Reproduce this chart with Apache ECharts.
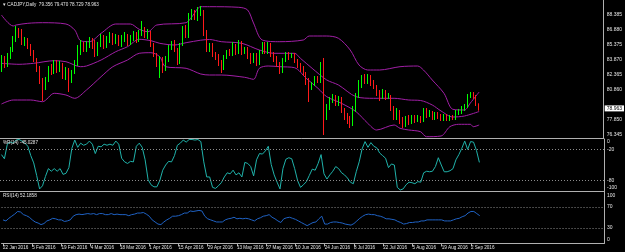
<!DOCTYPE html>
<html><head><meta charset="utf-8">
<script src="https://cdn.jsdelivr.net/npm/echarts@6/dist/echarts.min.js"></script>
<style>html,body{margin:0;padding:0;background:#000;}#c{width:625px;height:252px;}</style>
</head><body><div id="c"></div>
<script>
// ---- data ----
const xTickLabels = ['22 Jan 2016','5 Feb 2016','19 Feb 2016','4 Mar 2016','18 Mar 2016','1 Apr 2016','15 Apr 2016','29 Apr 2016','13 May 2016','27 May 2016','10 Jun 2016','24 Jun 2016','8 Jul 2016','22 Jul 2016','5 Aug 2016','19 Aug 2016','2 Sep 2016'];
const priceTicks = [88.385, 86.880, 85.375, 83.870, 82.365, 80.860, 77.850, 76.345];
const wprTicks = [-5, -20, -80, -94];
const rsiTicks = [92, 70, 30, 7];

const opens = [82.80,84.00,83.30,84.10,84.80,85.80,86.80,86.50,85.60,85.90,
85.10,84.50,83.80,82.80,81.60,81.10,81.80,83.00,82.60,83.60,
82.80,83.30,82.20,82.70,81.70,82.60,83.60,85.00,85.40,84.80,
85.30,85.80,85.20,84.40,85.40,86.00,85.20,85.80,86.30,85.60,
86.10,85.40,86.00,86.20,85.50,86.00,86.40,85.80,86.40,86.90,
86.20,86.50,85.30,84.30,83.30,83.90,82.90,83.80,85.20,85.40,
84.80,83.60,85.40,87.00,86.20,88.20,88.50,88.00,88.60,88.60,
86.40,84.80,85.30,84.30,84.10,83.40,83.00,84.10,84.60,84.40,
85.20,84.60,85.50,84.50,84.90,84.10,83.70,84.30,83.50,84.60,
85.40,84.60,85.30,84.30,84.00,83.30,82.70,83.80,84.30,84.10,
84.30,83.70,83.20,82.90,82.40,81.60,81.00,81.40,81.90,81.80,
83.40,78.40,79.10,79.80,80.10,79.40,79.90,78.80,78.10,77.80,
77.40,79.00,80.20,81.30,82.00,81.60,82.10,81.50,81.10,80.40,
80.10,80.60,80.10,80.20,79.00,78.00,78.60,77.80,77.30,77.90,
77.60,78.10,77.80,78.00,77.80,78.80,78.30,78.50,78.00,78.40,
78.20,77.90,78.20,77.90,78.10,78.00,78.50,78.60,78.90,79.20,
80.20,80.30,80.00,79.356];
const closes = [84.00,83.20,84.10,84.80,85.80,86.80,86.40,85.50,85.90,85.10,
84.50,83.80,82.80,81.60,81.00,81.80,83.00,82.60,83.60,82.80,
83.40,82.20,82.80,81.60,82.60,83.60,85.00,85.40,84.80,85.40,
85.80,85.20,84.30,85.40,86.00,85.20,85.80,86.30,85.60,86.10,
85.40,86.00,86.20,85.50,86.00,86.40,85.80,86.40,87.00,86.20,
86.60,85.30,84.30,83.30,84.00,82.80,83.80,85.10,85.50,84.80,
83.60,85.30,87.00,86.20,88.30,88.60,88.00,88.80,88.70,86.40,
84.80,85.30,84.30,84.00,83.40,82.90,84.10,84.50,84.40,85.30,
84.60,85.50,84.50,84.90,84.10,83.60,84.30,83.40,84.60,85.40,
84.60,85.30,84.30,83.90,83.30,82.60,83.80,84.30,84.00,84.30,
83.70,83.20,82.80,82.40,81.60,80.80,81.40,81.90,81.80,83.40,
78.80,79.10,79.80,80.10,79.40,79.90,78.80,78.10,77.70,77.20,
79.00,80.20,81.30,82.00,81.60,82.10,81.50,81.10,80.40,80.10,
80.60,80.10,80.30,79.00,78.00,78.60,77.80,77.20,77.90,77.50,
78.10,77.80,78.10,77.80,78.80,78.30,78.50,78.00,78.40,78.10,
77.90,78.20,77.90,78.10,78.00,78.50,78.60,79.00,79.20,80.20,
80.30,80.00,79.40,78.963];
const highs = [84.30,84.20,84.50,85.10,86.20,87.20,87.00,86.90,86.10,86.00,
85.40,84.80,84.00,83.20,82.00,82.10,83.20,83.40,83.80,83.80,
83.70,83.50,83.10,83.00,82.80,83.80,85.30,85.80,85.60,85.70,
86.10,86.00,85.80,85.60,86.40,86.30,86.20,86.60,86.50,86.40,
86.30,86.30,86.60,86.40,86.30,86.70,86.60,86.80,87.70,87.10,
86.90,86.70,85.50,84.50,84.20,84.10,84.20,85.30,85.70,85.80,
85.00,85.50,87.20,87.30,88.50,88.90,88.80,89.10,89.20,88.80,
86.80,85.50,85.50,84.60,84.40,83.80,84.30,84.80,84.90,85.60,
85.40,85.80,85.70,85.10,85.10,84.50,84.50,84.50,84.80,85.60,
85.60,85.60,85.50,84.60,84.20,83.60,84.00,84.60,84.60,84.50,
84.50,83.90,83.50,83.20,82.60,82.00,81.60,82.20,82.20,83.60,
84.00,79.40,80.10,80.40,80.30,80.20,80.10,79.00,78.50,78.20,
79.20,80.50,81.80,82.30,82.40,82.40,82.30,81.80,81.30,80.80,
80.90,80.80,80.50,80.30,79.20,79.00,78.80,78.10,78.20,78.30,
78.30,78.30,78.30,78.20,79.00,79.00,78.80,78.70,78.60,78.60,
78.40,78.40,78.40,78.30,78.30,78.80,78.90,79.20,79.40,80.40,
80.60,80.60,80.30,79.470];
const lows = [82.60,83.00,83.10,83.90,84.60,85.60,86.00,85.30,85.20,84.90,
84.20,83.60,82.60,81.40,79.70,80.80,81.60,82.30,82.40,82.50,
82.60,81.90,81.80,80.60,81.50,82.40,83.20,84.30,84.60,84.60,
85.00,84.90,84.10,84.20,85.10,84.90,85.00,85.50,85.30,85.40,
85.20,85.10,85.60,85.20,85.30,85.70,85.50,85.60,86.20,86.00,
85.90,85.10,84.10,83.10,82.00,82.50,82.70,83.60,84.80,84.60,
83.30,83.40,85.20,86.00,86.00,87.80,87.80,87.70,88.20,86.20,
84.60,84.60,84.10,83.80,83.20,82.50,82.80,83.90,84.20,84.20,
84.30,84.40,84.30,84.40,83.90,83.40,83.50,83.20,83.30,84.40,
84.40,84.40,84.10,83.60,83.10,82.40,82.50,83.60,83.80,84.00,
83.50,83.00,82.60,82.20,81.30,79.60,80.80,81.20,81.50,81.50,
76.30,77.80,78.80,79.50,79.20,79.20,78.50,77.80,77.40,77.00,
77.20,78.60,80.00,81.00,81.40,81.40,81.20,80.90,80.20,79.70,
79.90,79.80,79.90,78.70,77.80,77.80,77.40,77.00,77.10,77.30,
77.40,77.50,77.60,77.50,77.60,78.00,78.10,77.80,77.80,77.90,
77.70,77.70,77.70,77.70,77.80,77.80,78.30,78.40,78.70,79.00,
80.00,79.90,79.20,78.729];

// Bollinger bands, read at sample bars: [bar index, price]
const bbUpper = [[0,88.3],[4,87.2],[5,87.3],[9,87.47],[14,87.53],[22,87.4],[25,86.8],[27,85.73],[30,85.63],[34,86.47],[39,87.4],[44,87.4],[47,86.87],[50,86.63],[53,87.3],[63,87.53],[65,88.13],[68,89.13],[71,89.13],[81,89.07],[84,88.8],[86,87.5],[89,85.8],[95,85.63],[103,85.8],[105,86.2],[111,86.2],[115,85.97],[119,84.8],[122,83.3],[125,82.8],[129,82.8],[136,83.13],[142,83.2],[144,82.8],[147,81.8],[151,80.47],[154,78.87],[158,78.8],[160,79.5],[163,80.6]];
const bbMiddle = [[0,83.47],[6,83.37],[11,83.47],[18,83.73],[22,83.63],[27,83.13],[29,83.2],[34,83.8],[39,84.63],[43,85.13],[47,85.87],[51,85.73],[54,85.47],[59,85.3],[63,85.53],[68,85.78],[71,85.85],[75,85.63],[82,85.47],[88,84.8],[93,84.47],[100,84.47],[102,83.97],[106,82.97],[111,81.8],[115,81.3],[121,80.13],[127,79.97],[134,79.97],[139,79.8],[143,79.75],[147,79.3],[150,78.7],[154,78.1],[158,78.2],[163,78.65]];
const bbLower = [[0,79.4],[4,79.8],[10,79.8],[14,79.63],[18,80.47],[22,80.3],[25,79.97],[29,80.8],[34,82.13],[38,83.13],[43,83.8],[47,84.47],[51,84.53],[54,84.13],[56,83.13],[63,82.97],[68,82.4],[71,82.3],[75,82.3],[83,82.07],[86,81.87],[88,82.97],[91,83.2],[95,83.13],[100,83.03],[104,81.97],[108,80.97],[111,80.13],[116,79.47],[121,78.63],[125,77.47],[128,76.8],[134,77.3],[136,76.97],[139,76.8],[143,76.63],[145,76.13],[150,76.2],[153,77.13],[156,77.37],[160,77.37],[161,77.13],[163,77.3]];

const wpr = [-30,-38,-10,-6,-8,-2,-1,-4,-8,-14,
-32,-46,-70,-96,-90,-72,-57,-62,-57,-62,
-57,-68,-66,-55,-18,-2,-16,-8,-12,-10,
-4,-10,-28,-14,-15,-10,-12,-10,-12,-4,
-10,-37,-44,-47,-43,-44,-14,-8,-16,-40,
-78,-88,-92,-92,-80,-60,-50,-43,-44,-32,
-12,-8,-2,-6,-1,-1,-2,-1,-5,-44,
-73,-73,
-93,-95,-90,-84,-73,-65,-67,-60,-69,-65,
-73,-45,-47,-53,-71,-40,-28,-29,-23,-14,
-49,-69,-83,-96,-57,-39,-36,-38,-57,-80,
-93,-88,-82,-70,-58,-60,-47,-30,-67,-77,
-69,-62,-53,-57,-65,-69,-75,-83,-86,-63,
-44,-19,-5,-16,-7,-14,-17,-27,-32,-37,
-55,-48,-50,-93,-98,-96,-88,-83,
-84,-86,-82,-83,-65,-62,-63,-62,-53,-36,
-50,-63,-63,-61,-57,-40,-30,-18,-4,-20,
-5,-6,-22,-45];

const rsi = [45,43,48,52,56,61,60,55,53,50,
45,41,39,36,38,43,45,48,47,45,
45,42,43,45,52,55,56,55,56,57,
56,57,55,57,57,55,55,57,55,56,
55,55,55,53,55,56,58,58,59,56,
52,45,41,37,36,41,45,48,52,52,
53,55,58,58,62,61,62,63,62,52,
47,45,
43,41,41,41,45,47,48,50,47,48,
47,48,47,45,43,47,49,52,53,55,
50,47,43,40,47,49,50,48,46,43,
40,37,34,37,40,41,47,52,37,37,
40,41,41,40,39,37,36,35,38,43,
48,52,55,56,55,55,53,52,50,47,
47,46,45,42,40,37,38,40,
40,41,41,43,43,45,45,45,45,45,
45,43,43,43,45,47,48,51,53,58,
61,61,57,53];

const headerMain = '\u25BE CADJPY,Daily  79.356 79.470 78.729 78.963';
const headerWpr = '%R(14) -45.0287';
const headerRsi = 'RSI(14) 52.1858';
const lastPrice = 78.963;

// ---- chart ----
const FONT = '"Liberation Sans", Arial, sans-serif';
const TXT = '#e4e4e4';
const FRAME = '#b0b0b0';
const slotCount = 206;
const cats = Array.from({length: slotCount}, (_, i) => i);
const tickShown = (i) => i % 10 === 0 && i / 10 < xTickLabels.length;

function xAx(gi, show) {
  return {
    type: 'category', gridIndex: gi, data: cats, boundaryGap: true,
    axisLine: {show: true, onZero: false, lineStyle: {color: FRAME, width: 1}},
    axisTick: {show: show, interval: (i) => tickShown(i), alignWithLabel: true, length: 3, inside: false, lineStyle: {color: FRAME}},
    axisLabel: {show: show, interval: (i) => tickShown(i), formatter: (v, i) => xTickLabels[i / 10],
      align: 'left', margin: 2, fontSize: 4.6, color: TXT, fontFamily: FONT, hideOverlap: false},
    splitLine: {show: false}
  };
}
function yAx(gi, min, max, ticks, fmt) {
  return {
    type: 'value', gridIndex: gi, position: 'right', min: min, max: max,
    axisLine: {show: true, lineStyle: {color: FRAME, width: 1}},
    axisTick: {show: false}, splitLine: {show: false},
    axisLabel: {customValues: ticks, formatter: fmt, fontSize: 5, color: TXT, margin: 3, fontFamily: FONT}
  };
}
const levelLine = (vals) => ({
  silent: true, symbol: 'none', animation: false,
  label: {show: false},
  lineStyle: {color: '#8c8c8c', type: [1, 2], width: 1},
  data: vals.map(v => ({yAxis: v}))
});
const band = (d) => ({
  type: 'line', xAxisIndex: 0, yAxisIndex: 0, data: d, symbol: 'none', smooth: 0.3,
  lineStyle: {color: '#a11fa6', width: 1}, silent: true, z: 3
});

const chart = echarts.init(document.getElementById('c'), null, {renderer: 'canvas'});
chart.setOption({
  backgroundColor: '#000',
  animation: false,
  textStyle: {fontFamily: FONT},
  title: [
    {text: headerMain, left: 3, top: 2.5, padding: 0, textStyle: {fontSize: 4.6, fontWeight: 'normal', color: TXT, fontFamily: FONT}},
    {text: headerWpr, left: 3, top: 140.5, padding: 0, textStyle: {fontSize: 4.6, fontWeight: 'normal', color: TXT, fontFamily: FONT}},
    {text: headerRsi, left: 3, top: 193.5, padding: 0, textStyle: {fontSize: 4.6, fontWeight: 'normal', color: TXT, fontFamily: FONT}}
  ],
  grid: [
    {left: 0, right: 21, top: 0, height: 138},
    {left: 0, right: 21, top: 139, height: 52},
    {left: 0, right: 21, top: 191, height: 52.5}
  ],
  xAxis: [xAx(0, false), xAx(1, false), xAx(2, true)],
  yAxis: [
    yAx(0, 76.0, 89.8, priceTicks, v => v.toFixed(3)),
    yAx(1, -100, 0, wprTicks, v => v > -10 ? '0' : (v < -90 ? '-100' : String(v))),
    yAx(2, 0, 100, rsiTicks, v => v > 90 ? '100' : (v < 10 ? '0' : String(v)))
  ],
  series: [
    band(bbUpper), band(bbMiddle), band(bbLower),
    {
      type: 'candlestick', xAxisIndex: 0, yAxisIndex: 0, z: 4,
      data: opens.map((o, i) => [o, closes[i], lows[i], highs[i]]),
      barWidth: 1,
      itemStyle: {color: '#00ff00', color0: '#ff1a1a', borderColor: '#00ff00', borderColor0: '#ff1a1a', borderWidth: 1},
      markLine: {
        silent: true, symbol: 'none', animation: false,
        lineStyle: {color: 'rgba(0,0,0,0)', width: 1, type: 'solid'},
        label: {show: true, position: 'end', distance: 1, formatter: lastPrice.toFixed(3),
          backgroundColor: '#ffffff', color: '#000000', fontSize: 5, padding: [1, 2, 0, 2], fontFamily: FONT},
        emphasis: {disabled: true},
        data: [{yAxis: lastPrice}]
      }
    },
    {
      type: 'line', xAxisIndex: 1, yAxisIndex: 1, data: wpr, symbol: 'none',
      lineStyle: {color: '#20b2aa', width: 1}, markLine: levelLine([-20, -80])
    },
    {
      type: 'line', xAxisIndex: 2, yAxisIndex: 2, data: rsi, symbol: 'none',
      lineStyle: {color: '#1f62c4', width: 1}, markLine: levelLine([70, 30])
    }
  ]
});
</script>
</body></html>
